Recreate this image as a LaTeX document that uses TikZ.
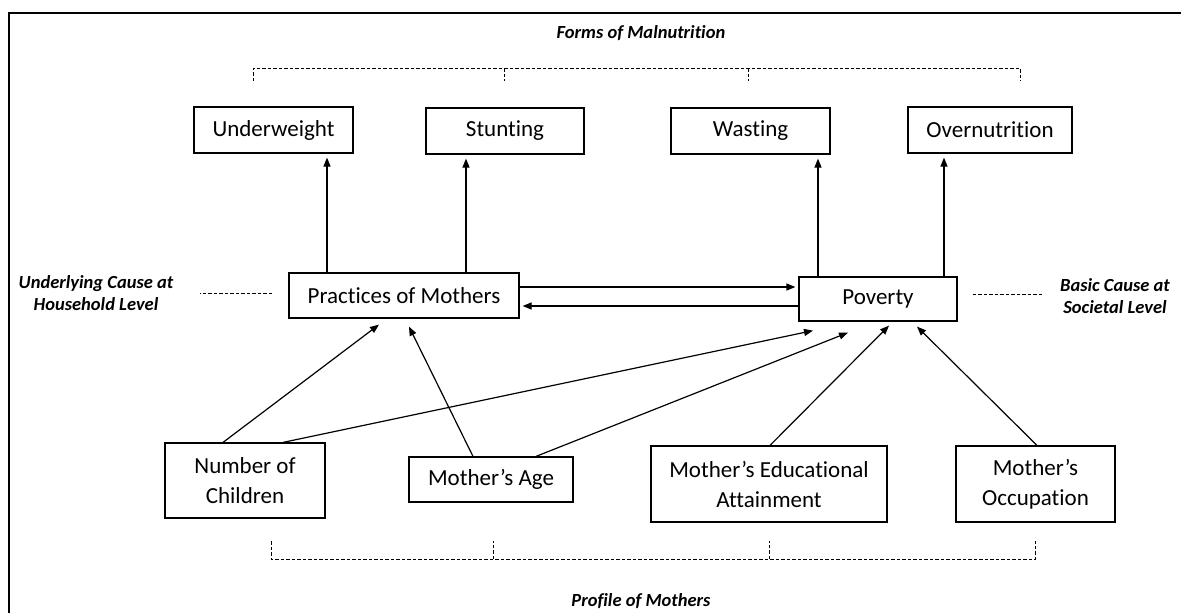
\documentclass[tikz,border=0pt]{standalone}
\usepackage{fontspec}
\setmainfont[Ligatures=NoCommon]{Carlito}
\usetikzlibrary{arrows.meta}

\tikzset{
  dashline/.style={dash pattern=on 3.5pt off 2pt,line width=0.8pt},
  sidelabel/.style={align=center,font=\fontsize{18.5}{21.5}\selectfont\bfseries\itshape}
}

\begin{document}
\begin{tikzpicture}[x=1pt,y=-1pt]
    \useasboundingbox (0,0) rectangle (1181,613);
    \draw[line width=2.6pt] (9,613) -- (9,13) -- (1181,13);

    \begin{scope}[every node/.style={draw,line width=1.2pt,align=center,inner sep=0pt,
        minimum height=46pt,font=\fontsize{23}{30}\selectfont}]
      \node[minimum width=159pt] (uw) at (273.5,130) {Underweight};
      \node[minimum width=158pt] (st) at (505,131) {Stunting};
      \node[minimum width=159pt] (wa) at (750.5,131) {Wasting};
      \node[minimum width=164pt] (ov) at (990,130) {Overnutrition};
      \node[minimum width=230pt,minimum height=45pt] (pm) at (404,295.5) {Practices of Mothers};
      \node[minimum width=158pt,minimum height=44pt] (pov) at (878,299) {Poverty};
      \node[minimum width=160pt,minimum height=75pt] (noc) at (245,480.5) {Number of\\Children};
      \node[minimum width=164pt,minimum height=45pt] (age) at (491,479.5) {Mother’s Age};
      \node[minimum width=236pt,minimum height=76pt] (edu) at (769,484) {Mother’s Educational\\Attainment};
      \node[minimum width=159pt,minimum height=76pt] (occ) at (1035.5,484) {Mother’s\\Occupation};
    \end{scope}

    % group labels
    \node[sidelabel] (forms) at (641,33) {Forms of Malnutrition};
    \node[sidelabel] (profile) at (641,601) {Profile of Mothers};
    \node[sidelabel] (under) at (96,293) {Underlying Cause at\\Household Level};
    \node[sidelabel] (basic) at (1115,296) {Basic Cause at\\Societal Level};

    \draw[dashline] (253,81) -- (253,68) -- (1020,68) -- (1020,81);
    \draw[dashline] (504,68) -- (504,81) (748,68) -- (748,81);
    \draw[dashline] (271,541) -- (271,559) -- (1035,559) -- (1035,541);
    \draw[dashline] (493,559) -- (493,541) (769,559) -- (769,541);
    \draw[dashline] ([xshift=-16pt,yshift=2.5pt]pm.west) -- ++(-72,0);
    \draw[dashline] ([xshift=15pt,yshift=5pt]pov.east) -- ++(70,0);

    \begin{scope}[>={Triangle[length=9pt,width=7pt]},every edge/.style={draw=black,line width=1.2pt}]
      \path[->,shorten >=4pt] ([xshift=-77pt]pm.north) edge ([xshift=-77pt]pm.north |- uw.south)
                              ([xshift=62pt]pm.north) edge ([xshift=62pt]pm.north |- st.south)
                              ([xshift=-60pt]pov.north) edge ([xshift=-60pt]pov.north |- wa.south)
                              ([xshift=66pt]pov.north) edge ([xshift=66pt]pov.north |- ov.south);
      \path[->,shorten >=3pt] ([yshift=8.5pt]pm.east) edge ([yshift=8.5pt]pm.east -| pov.west)
                              ([yshift=-7pt]pov.west) edge ([yshift=-7pt]pov.west -| pm.east);
      \path[->] ([xshift=-22pt]noc.north) edge ([xshift=-25pt,yshift=-6pt]pm.south)
                ([xshift=38pt]noc.north) edge ([xshift=-65pt,yshift=-9pt]pov.south)
                ([xshift=-18pt]age.north) edge ([xshift=5pt,yshift=-8pt]pm.south)
                ([xshift=45pt]age.north) edge ([xshift=-30pt,yshift=-11pt]pov.south)
                ([xshift=1pt]edu.north) edge ([xshift=11pt,yshift=-4pt]pov.south)
                ([xshift=1.5pt]occ.north) edge ([xshift=39pt,yshift=-5pt]pov.south);
    \end{scope}
\end{tikzpicture}
\end{document}
